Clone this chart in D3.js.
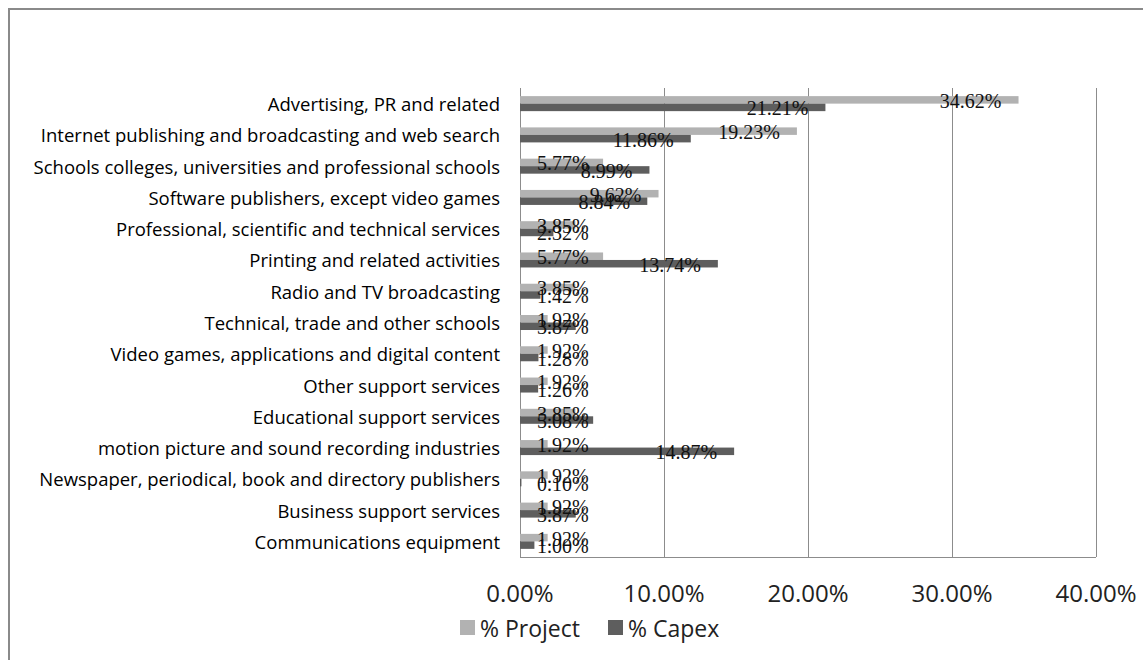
<!DOCTYPE html>
<html>
<head>
<meta charset="utf-8">
<script src="https://cdn.jsdelivr.net/npm/d3@7"></script>
<style>
  html, body { margin: 0; padding: 0; background: #fff; }
  svg { display: block; }
</style>
</head>
<body>
<svg id="chart" width="1143" height="660"></svg>
<script>
// Industry breakdown: share of projects vs share of capital expenditure
const categories = [
  "Advertising, PR and related",
  "Internet publishing and broadcasting and web search",
  "Schools colleges, universities and professional schools",
  "Software publishers, except video games",
  "Professional, scientific and technical services",
  "Printing and related activities",
  "Radio and TV broadcasting",
  "Technical, trade and other schools",
  "Video games, applications and digital content",
  "Other support services",
  "Educational support services",
  "motion picture and sound recording industries",
  "Newspaper, periodical, book and directory publishers",
  "Business support services",
  "Communications equipment"
];
const projectPct = [34.62, 19.23, 5.77, 9.62, 3.85, 5.77, 3.85, 1.92, 1.92, 1.92, 3.85, 1.92, 1.92, 1.92, 1.92];
const capexPct   = [21.21, 11.86, 8.99, 8.84, 2.32, 13.74, 1.42, 3.87, 1.28, 1.26, 5.08, 14.87, 0.10, 3.87, 1.00];
const seriesNames = ["% Project", "% Capex"];
const xTicks = [0, 10, 20, 30, 40];

const colors = ["#b2b2b2", "#5e5e5e"];

const svg = d3.select("#chart");

// outer frame
svg.append("path")
  .attr("d", "M9,660 V9 H1143")
  .attr("fill", "none")
  .attr("stroke", "#8a8a8a")
  .attr("stroke-width", 2);

const plot = { left: 520, right: 1096, top: 88, bottom: 557 };

const x = d3.scaleLinear().domain([0, 40]).range([plot.left, plot.right]);
const y = d3.scaleBand().domain(categories).range([plot.top, plot.bottom]).paddingInner(0.52).paddingOuter(0.26);
const ySeries = d3.scaleBand().domain(seriesNames).range([0, y.bandwidth()]);

// vertical gridlines
svg.append("g")
  .selectAll("line")
  .data(xTicks)
  .join("line")
  .attr("x1", d => Math.round(x(d)) + 0.5)
  .attr("x2", d => Math.round(x(d)) + 0.5)
  .attr("y1", plot.top)
  .attr("y2", plot.bottom)
  .attr("stroke", "#8c8c8c")
  .attr("stroke-width", 1);

// bottom axis line
svg.append("line")
  .attr("x1", plot.left).attr("x2", plot.right)
  .attr("y1", plot.bottom + 0.5).attr("y2", plot.bottom + 0.5)
  .attr("stroke", "#8c8c8c");

// x tick labels
svg.append("g")
  .selectAll("text")
  .data(xTicks)
  .join("text")
  .attr("x", d => x(d))
  .attr("y", 592)
  .attr("text-anchor", "middle")
  .attr("dominant-baseline", "central")
  .attr("font-family", "'Open Sans', sans-serif")
  .attr("font-size", 24)
  .attr("fill", "#222")
  .text(d => d3.format(".2f")(d) + "%");

// category labels
svg.append("g")
  .selectAll("text")
  .data(categories)
  .join("text")
  .attr("x", plot.left - 20)
  .attr("y", d => y(d) + y.bandwidth() / 2)
  .attr("text-anchor", "end")
  .attr("dominant-baseline", "central")
  .attr("font-family", "'Open Sans', sans-serif")
  .attr("font-size", 18.5)
  .attr("fill", "#000")
  .text(d => d);

const series = [projectPct, capexPct];

// bars
series.forEach((vals, si) => {
  svg.append("g")
    .selectAll("rect")
    .data(vals)
    .join("rect")
    .attr("x", x(0))
    .attr("y", (d, i) => y(categories[i]) + ySeries(seriesNames[si]))
    .attr("width", d => x(d) - x(0))
    .attr("height", ySeries.bandwidth())
    .attr("fill", colors[si]);
});

// value labels
series.forEach((vals, si) => {
  const g = svg.append("g");
  g.selectAll("text")
    .data(vals)
    .join("text")
    .attr("y", (d, i) => y(categories[i]) + ySeries(seriesNames[si]) + ySeries.bandwidth() / 2 + 1)
    .attr("text-anchor", "end")
    .attr("dominant-baseline", "central")
    .attr("font-family", "'Liberation Serif', serif")
    .attr("font-size", 20)
    .attr("fill", "#111")
    .text(d => d3.format(".2f")(d) + "%")
    .attr("x", function (d) {
      const w = this.getComputedTextLength();
      return Math.max(x(d) - 17, x(0) + 17 + w);
    });
});

// legend
const legend = svg.append("g").attr("transform", "translate(460,628)");
const items = [{ name: seriesNames[0], dx: 0 }, { name: seriesNames[1], dx: 148 }];
items.forEach((it, i) => {
  legend.append("rect")
    .attr("x", it.dx).attr("y", -8)
    .attr("width", 15).attr("height", 15)
    .attr("fill", colors[i]);
  legend.append("text")
    .attr("x", it.dx + 20).attr("y", 0)
    .attr("dominant-baseline", "central")
    .attr("font-family", "'Open Sans', sans-serif")
    .attr("font-size", 23)
    .attr("fill", "#222")
    .text(it.name);
});
</script>
</body>
</html>
